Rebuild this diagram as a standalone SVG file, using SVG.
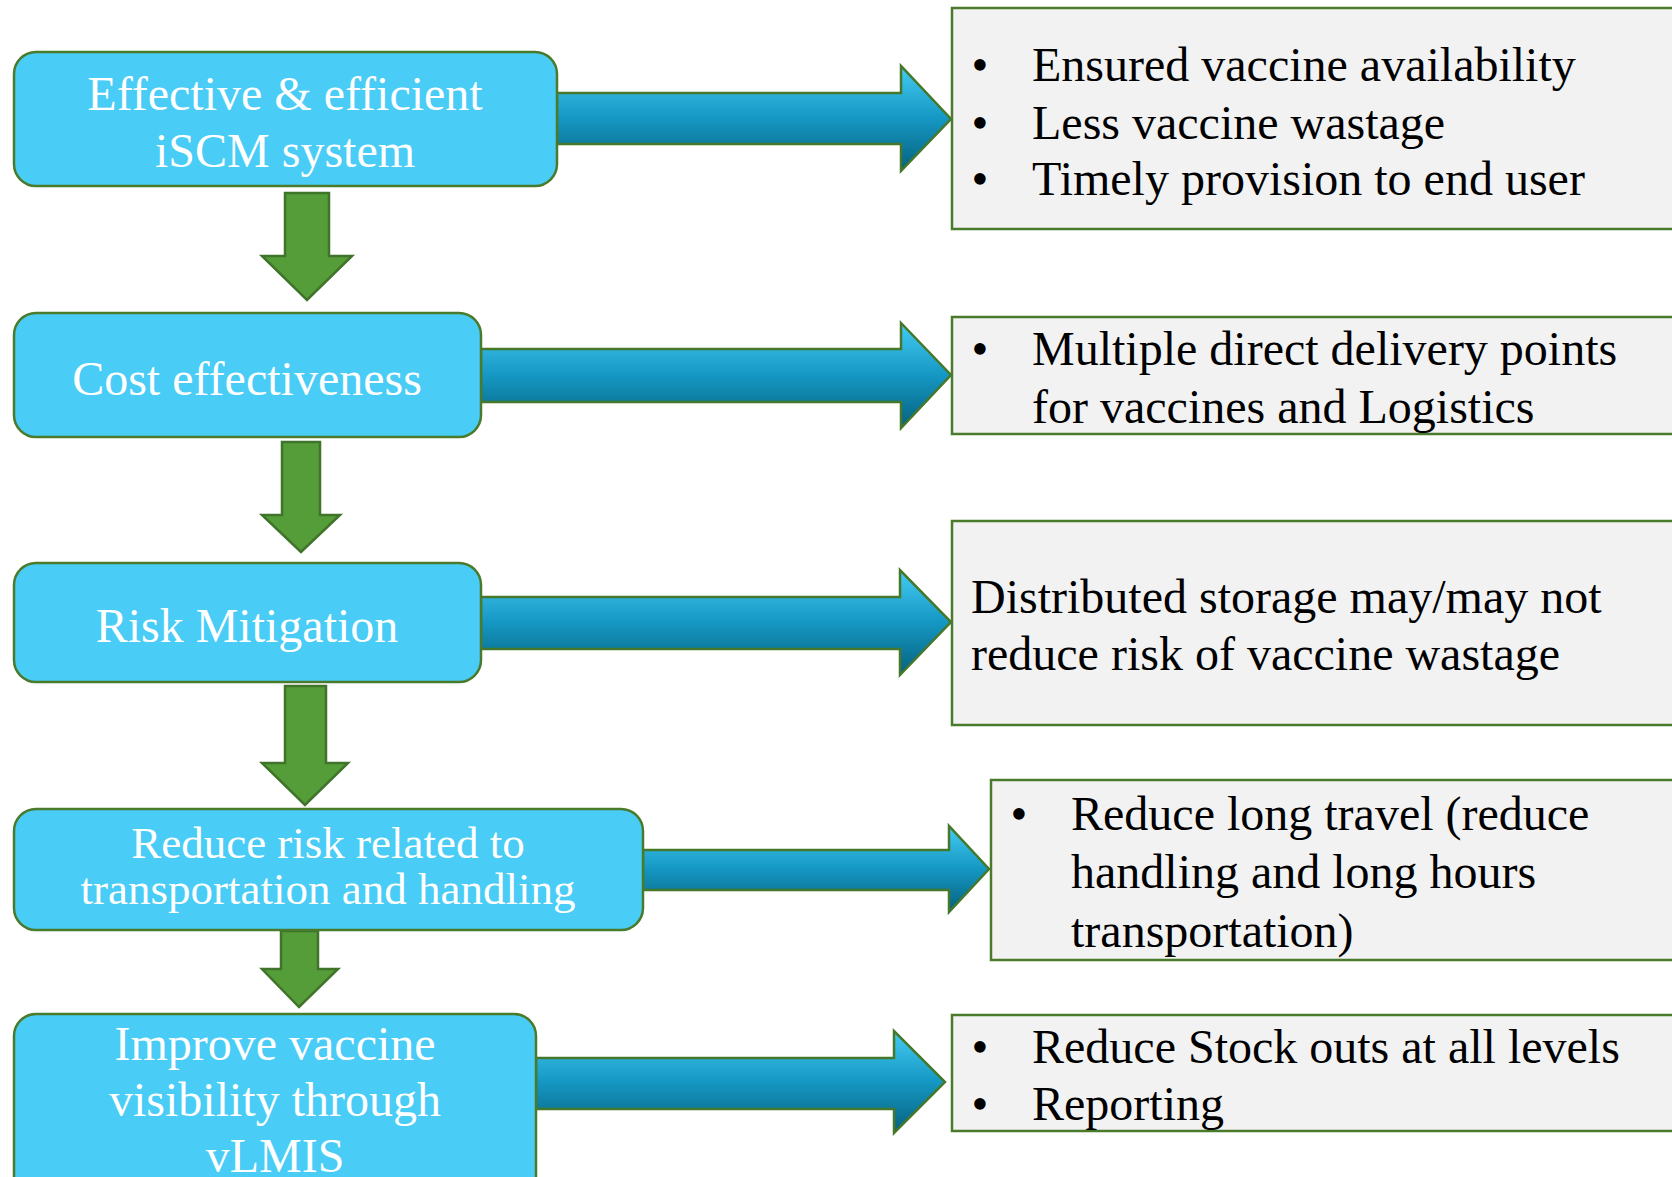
<svg xmlns="http://www.w3.org/2000/svg" width="1672" height="1177" viewBox="0 0 1672 1177">
<defs>
<linearGradient id="blueGrad" x1="0" y1="0" x2="0" y2="1">
<stop offset="0" stop-color="#44CCF3"/>
<stop offset="0.5" stop-color="#1597C3"/>
<stop offset="1" stop-color="#06617D"/>
</linearGradient>
<style>
.node{fill:#49CCF5;stroke:#4A7B2C;stroke-width:2.5}
.note{fill:#F2F2F2;stroke:#4A7B2C;stroke-width:2.5}
.barrow{fill:url(#blueGrad);stroke:#46782B;stroke-width:2.5;stroke-linejoin:miter}
.garrow{fill:#549D39;stroke:#40742A;stroke-width:2.5}
.nt{font-family:"Liberation Serif","Times New Roman",serif;font-size:48px;fill:#FFFFFF;text-anchor:middle}
.bt{font-family:"Liberation Serif","Times New Roman",serif;font-size:48px;fill:#000000}
.bul{text-anchor:middle}
</style>
</defs>
<rect width="1672" height="1177" fill="#FFFFFF"/>

<g id="connectors">
<polygon class="barrow" points="557,93 901,93 901,66 951,119 901,171 901,144 557,144"/>
<polygon class="barrow" points="481,349 901,349 901,323 951,375 901,428 901,402 481,402"/>
<polygon class="barrow" points="481,597 900,597 900,570 951,622 900,675 900,649 481,649"/>
<polygon class="barrow" points="643,850 949,850 949,826 989,869 949,912 949,890 643,890"/>
<polygon class="barrow" points="536,1058 894,1058 894,1031 945,1082 894,1133 894,1109 536,1109"/>
<polygon class="garrow" points="285,193 329,193 329,256 352,256 307,300 262,256 285,256"/>
<polygon class="garrow" points="282,442 320,442 320,515 340,515 301,552 262,515 282,515"/>
<polygon class="garrow" points="285,686 326,686 326,763 348,763 305,805 262,763 285,763"/>
<polygon class="garrow" points="281,931 318,931 318,969 338,969 299,1007 262,969 281,969"/>
</g>

<g id="node1">
<rect class="node" x="14" y="52" width="543" height="134" rx="22" ry="22"/>
<text class="nt" x="285" y="110">Effective &amp; efficient</text>
<text class="nt" x="285" y="167">iSCM system</text>
</g>
<g id="node2">
<rect class="node" x="14" y="313" width="467" height="124" rx="22" ry="22"/>
<text class="nt" x="247" y="395">Cost effectiveness</text>
</g>
<g id="node3">
<rect class="node" x="14" y="563" width="467" height="119" rx="22" ry="22"/>
<text class="nt" x="247" y="642">Risk Mitigation</text>
</g>
<g id="node4">
<rect class="node" x="14" y="809" width="629" height="121" rx="22" ry="22"/>
<text class="nt" x="328" y="858" style="font-size:45px">Reduce risk related to</text>
<text class="nt" x="328" y="904" style="font-size:45px">transportation and handling</text>
</g>
<g id="node5">
<rect class="node" x="14" y="1014" width="522" height="190" rx="22" ry="22"/>
<text class="nt" x="275" y="1060">Improve vaccine</text>
<text class="nt" x="275" y="1116">visibility through</text>
<text class="nt" x="275" y="1172">vLMIS</text>
</g>

<g id="note1">
<rect class="note" x="952" y="8" width="740" height="221"/>
<text class="bt bul" x="980" y="81">•</text>
<text class="bt" x="1032" y="81">Ensured vaccine availability</text>
<text class="bt bul" x="980" y="139">•</text>
<text class="bt" x="1032" y="139">Less vaccine wastage</text>
<text class="bt bul" x="980" y="195">•</text>
<text class="bt" x="1032" y="195">Timely provision to end user</text>
</g>
<g id="note2">
<rect class="note" x="952" y="317" width="740" height="117"/>
<text class="bt bul" x="980" y="365">•</text>
<text class="bt" x="1032" y="365">Multiple direct delivery points</text>
<text class="bt" x="1032" y="423">for vaccines and Logistics</text>
</g>
<g id="note3">
<rect class="note" x="952" y="521" width="740" height="204"/>
<text class="bt" x="971" y="613">Distributed storage may/may not</text>
<text class="bt" x="971" y="670">reduce risk of vaccine wastage</text>
</g>
<g id="note4">
<rect class="note" x="991" y="780" width="700" height="180"/>
<text class="bt bul" x="1019" y="830">•</text>
<text class="bt" x="1071" y="830">Reduce long travel (reduce</text>
<text class="bt" x="1071" y="888">handling and long hours</text>
<text class="bt" x="1071" y="947">transportation)</text>
</g>
<g id="note5">
<rect class="note" x="952" y="1015" width="740" height="116"/>
<text class="bt bul" x="980" y="1063">•</text>
<text class="bt" x="1032" y="1063">Reduce Stock outs at all levels</text>
<text class="bt bul" x="980" y="1120">•</text>
<text class="bt" x="1032" y="1120">Reporting</text>
</g>
</svg>
